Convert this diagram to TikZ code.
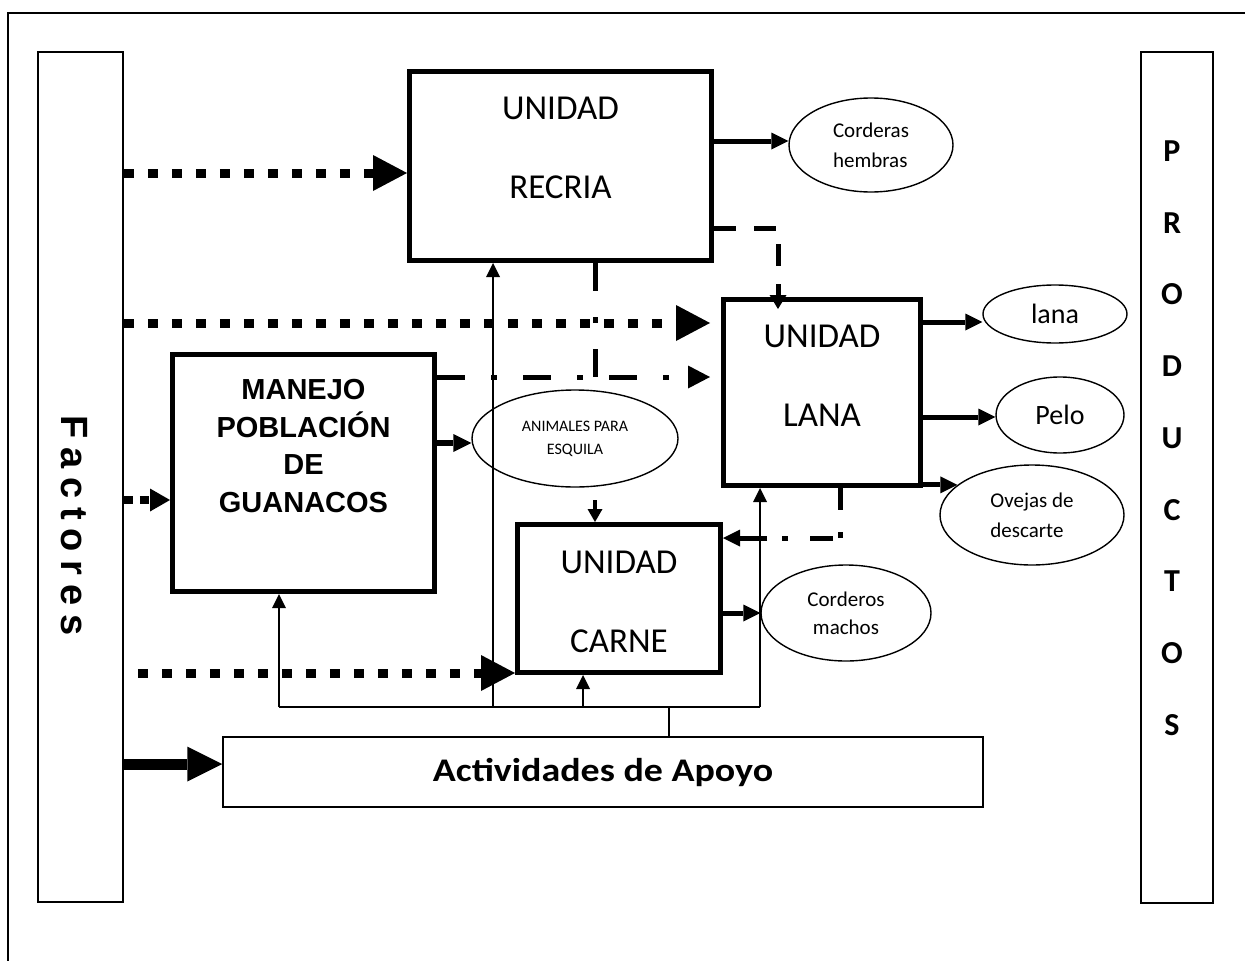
\documentclass[tikz,border=0pt]{standalone}
\usepackage{fontspec}
\setmainfont{Carlito}
\newfontfamily\arialfont{Liberation Sans}
\newfontfamily\factfont{Liberation Sans}[LetterSpace=23]
\newfontfamily\apoyofont{Carlito}[FakeStretch=1.15]
\usetikzlibrary{arrows.meta,shapes.geometric}

\tikzset{
  caja/.style={draw, line width=5pt, inner sep=0pt},
  marco/.style={draw, line width=1.6pt, inner sep=0pt},
  ovalo/.style={draw, ellipse, line width=1.4pt, inner sep=0pt, align=center},
  unidadtxt/.style={align=center, font=\fontsize{35}{79}\selectfont},
  letra/.style={font=\fontsize{32}{38}\selectfont\bfseries},
  cuadros/.style={line width=9pt, dash pattern=on 10pt off 14pt, -{Triangle[length=34pt,width=36pt,line width=0pt]}},
  rayas/.style={line width=5pt, dash pattern=on 22pt off 18pt, -{Triangle[length=14pt,width=17pt,line width=0pt]}},
  rayapunto/.style={line width=5pt, dash pattern=on 28pt off 26pt on 6pt off 26pt},
  salida/.style={line width=5pt, -{Triangle[length=17pt,width=17pt,line width=0pt]}},
  linea/.style={line width=1.5pt, -{Triangle[length=14pt,width=14pt,line width=0pt]}}
}

\begin{document}
\begin{tikzpicture}[x=1pt,y=-1pt]
\useasboundingbox (0,0) rectangle (1245,961);
% marco exterior
\draw[line width=1.5pt] (8,961) -- (8,13) -- (1245,13);

% columnas laterales
\node[marco, minimum width=85pt, minimum height=850pt] (fact) at (80.5,477) {};
\node[rotate=-90, font=\factfont\bfseries\fontsize{38}{40}\selectfont] (facttxt) at (74,525.5) {Factores};
\node[marco, minimum width=72pt, minimum height=851pt] (prod) at (1177,477.5) {};
\foreach \ch [count=\i] in {P,R,O,D,U,C,T,O,S}
  \node[letra] (prod\i) at (1172,{151+71.75*(\i-1)}) {\ch};

% unidades
\node[caja, minimum width=302pt, minimum height=189pt] (recria) at (560.5,166) {};
\node[unidadtxt] (recriatxt) at (560.5,147.5) {UNIDAD\\RECRIA};
\node[caja, minimum width=197pt, minimum height=186pt] (lana) at (822,392.5) {};
\node[unidadtxt] (lanatxt) at (822,376) {UNIDAD\\LANA};
\node[caja, minimum width=203pt, minimum height=148pt] (carne) at (619,598.5) {};
\node[unidadtxt] (carnetxt) at (619,602) {UNIDAD\\CARNE};
\node[caja, minimum width=262pt, minimum height=237pt] (manejo) at (303.5,473) {};
\node[align=center, font=\arialfont\bfseries\fontsize{29}{37.5}\selectfont] (manejotxt) at (303.5,446) {MANEJO\\POBLACIÓN\\DE\\GUANACOS};
\node[marco, line width=1.5pt, minimum width=760pt, minimum height=70pt, font=\apoyofont\bfseries\fontsize{33}{40}\selectfont] (apoyo) at (603,772) {Actividades de Apoyo};

% productos
\node[ovalo, minimum width=164pt, minimum height=94pt, font=\fontsize{21}{30}\selectfont, align=left] (hembras) at (871,145) {Corderas\\hembras};
\node[ovalo, minimum width=144pt, minimum height=58pt, font=\fontsize{28}{34}\selectfont] (lanap) at (1055,314) {lana};
\node[ovalo, minimum width=128pt, minimum height=76pt, font=\fontsize{28}{34}\selectfont] (pelo) at (1060,415) {Pelo};
\node[ovalo, minimum width=184pt, minimum height=100pt, font=\fontsize{21}{30}\selectfont, align=left] (ovejas) at (1032,515) {Ovejas de\\descarte};
\node[ovalo, minimum width=170pt, minimum height=96pt, font=\fontsize{21}{28}\selectfont] (machos) at (846,613) {Corderos\\machos};
\node[ovalo, minimum width=206pt, minimum height=97pt, font=\fontsize{16}{23}\selectfont] (esquila) at (575,438.5) {ANIMALES PARA\\ESQUILA};

% factores hacia las unidades
\draw[cuadros] (fact.east |- 0,173) -- (recria.west |- 0,173);
\draw[cuadros, shorten >=11pt] (fact.east |- 0,323) -- (lana.west |- 0,323);
\draw[cuadros, line width=8pt, dash pattern=on 9pt off 7pt, -{Triangle[length=20pt,width=23pt,line width=0pt]}] (fact.east |- 0,500) -- (manejo.west |- 0,500);
\draw[cuadros, dash phase=10pt] (fact.east |- 0,673) -- (carne.west |- 0,673);
\draw[line width=11pt, -{Triangle[length=35pt,width=35pt,line width=0pt]}] (fact.east |- 0,764) -- (apoyo.west |- 0,764);

% entre unidades
\draw[rayas] (recria.east |- 0,228) -| ([xshift=-44pt,yshift=-12pt]lana.north);
\coordinate (cruce) at (595,377);
\draw[rayapunto] ([xshift=34.5pt]recria.south) -- (cruce);
\draw[rayapunto, -{Triangle[length=22pt,width=23pt,line width=0pt]}, shorten >=11pt] (manejo.east |- cruce) -- (lana.west |- cruce);
\draw[line width=6pt, -{Triangle[length=18pt,width=18pt,line width=0pt]}] (manejo.east |- 0,443) -- (esquila.west |- 0,443);
\coordinate (corte) at (595,500);
\draw[line width=4pt, -{Triangle[length=13pt,width=15pt,line width=0pt]}] (corte) -- (corte |- carne.north);
\draw[rayapunto, dash pattern=on 22pt off 22pt on 6pt off 7pt on 23pt off 22pt on 6pt off 15pt on 30pt off 10pt, -{Triangle[length=17pt,width=17pt,line width=0pt]}] ([xshift=18pt]lana.south) |- ([yshift=60.5pt]carne.east);

% salidas
\draw[salida] (recria.east |- 0,141) -- (hembras.west |- 0,141);
\draw[salida] (lana.east |- 0,322) -- (lanap.west |- 0,322);
\draw[salida] (lana.east |- 0,417) -- (pelo.west |- 0,417);
\draw[salida] (lana.south east |- ovejas.158) -- (ovejas.158);
\draw[salida] (carne.east |- machos.west) -- (machos.west);

% actividades de apoyo
\coordinate (bus) at (669,707);
\draw[line width=1.5pt] ([xshift=66pt]apoyo.north) -- (bus);
\draw[line width=1.5pt] ([xshift=-24.5pt]manejo.south |- bus) -- ([xshift=-62pt]lana.south |- bus);
\draw[linea] ([xshift=-24.5pt]manejo.south |- bus) -- ([xshift=-24.5pt]manejo.south);
\draw[linea] ([xshift=-67.5pt]recria.south |- bus) -- ([xshift=-67.5pt]recria.south);
\draw[linea] ([xshift=-36pt]carne.south |- bus) -- ([xshift=-36pt]carne.south);
\draw[linea] ([xshift=-62pt]lana.south |- bus) -- ([xshift=-62pt]lana.south);
\end{tikzpicture}
\end{document}
